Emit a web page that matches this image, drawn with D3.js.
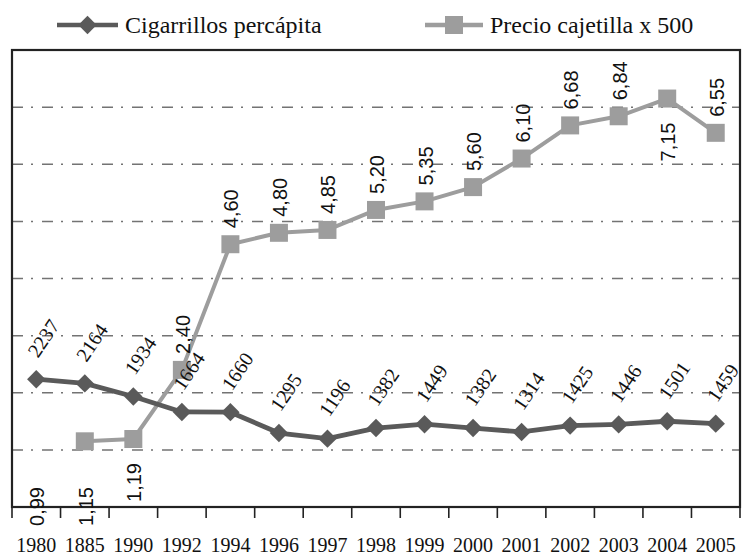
<!DOCTYPE html>
<html>
<head>
<meta charset="utf-8">
<script src="https://cdn.jsdelivr.net/npm/d3@7"></script>
<style>
  html, body { margin: 0; padding: 0; background: #fff; }
  svg { display: block; }
  .serif { font-family: 'Liberation Serif', 'DejaVu Serif', 'Times New Roman', serif; }
  .sans { font-family: 'Liberation Sans', 'DejaVu Sans', Arial, sans-serif; }
</style>
</head>
<body>
<svg id="chart" width="743" height="555"></svg>
<script>
// Years on the category axis (as printed)
const years = ['1980', '1885', '1990', '1992', '1994', '1996', '1997', '1998',
               '1999', '2000', '2001', '2002', '2003', '2004', '2005'];

// Cigarettes per capita
const cigarrillos = [2237, 2164, 1934, 1664, 1660, 1295, 1196, 1382,
                     1449, 1382, 1314, 1425, 1446, 1501, 1459];

// Price per pack
const precio = [0.99, 1.15, 1.19, 2.40, 4.60, 4.80, 4.85, 5.20,
                5.35, 5.60, 6.10, 6.68, 6.84, 7.15, 6.55];

// Shared value axis and its gridlines
const yDomain = [0, 8000];
const gridValues = [1000, 2000, 3000, 4000, 5000, 6000, 7000];

// Series names for the legend
const seriesNames = ['Cigarrillos percápita', 'Precio cajetilla x 500'];

// ---- drawing -------------------------------------------------------------
const priceFactor = 1000;          // price is plotted on the shared axis
const pricePlottedFrom = 1;        // 1980 price appears only as a label
// where each price label sits relative to its point
const priceLabelSide = ['axis', 'axis', 'below', 'above', 'above', 'above', 'above', 'above',
                        'above', 'above', 'above', 'above', 'above', 'below', 'above'];

const plot = { left: 12, right: 740, top: 50, bottom: 507 };
const darkColor = '#5a5a5a';
const lightColor = '#9d9d9d';

const svg = d3.select('#chart');

const x = d3.scaleBand().domain(years).range([plot.left, plot.right]).padding(0);
const y = d3.scaleLinear().domain(yDomain).range([plot.bottom, plot.top]);
const cx = d => x(d) + x.bandwidth() / 2;

const comma = d3.formatLocale({ decimal: ',', thousands: '.', grouping: [3], currency: ['', ''] });
const fmtPrice = comma.format('.2f');

// gridlines (dash-dot)
svg.append('g')
  .selectAll('line')
  .data(gridValues)
  .join('line')
  .attr('x1', plot.left).attr('x2', plot.right)
  .attr('y1', d => y(d)).attr('y2', d => y(d))
  .attr('stroke', '#737373')
  .attr('stroke-width', 1.5)
  .attr('stroke-dasharray', '11 8 2 9');

// category axis labels
const xAxis = svg.append('g')
  .attr('transform', `translate(0,${plot.bottom})`)
  .call(d3.axisBottom(x).tickSize(0).tickPadding(0));
xAxis.attr('font-family', null).attr('font-size', null);
xAxis.select('.domain').remove();
xAxis.selectAll('text')
  .attr('class', 'serif')
  .attr('y', 45)
  .attr('dy', 0)
  .style('font-size', '20px')
  .attr('fill', '#111');

// boundary tick marks
const boundaries = years.map(d => x(d)).concat([x.range()[1]]);
svg.append('g')
  .selectAll('line')
  .data(boundaries)
  .join('line')
  .attr('x1', d => d).attr('x2', d => d)
  .attr('y1', plot.bottom).attr('y2', plot.bottom + 11)
  .attr('stroke', '#222')
  .attr('stroke-width', 1.6);

// plot frame
svg.append('rect')
  .attr('x', plot.left).attr('y', plot.top)
  .attr('width', plot.right - plot.left)
  .attr('height', plot.bottom - plot.top)
  .attr('fill', 'none')
  .attr('stroke', '#222')
  .attr('stroke-width', 2.2);

// price series
const priceData = years.map((yr, i) => ({ year: yr, value: precio[i] * priceFactor, label: precio[i], side: priceLabelSide[i], i }));
const pricePlotted = priceData.filter(d => d.i >= pricePlottedFrom);

const line = d3.line().x(d => cx(d.year)).y(d => y(d.value));

svg.append('path')
  .datum(pricePlotted)
  .attr('d', line)
  .attr('fill', 'none')
  .attr('stroke', lightColor)
  .attr('stroke-width', 4)
  .attr('stroke-linejoin', 'round');

const squareSym = d3.symbol(d3.symbolSquare, 18 * 18);
svg.append('g')
  .selectAll('path')
  .data(pricePlotted)
  .join('path')
  .attr('d', squareSym)
  .attr('transform', d => `translate(${cx(d.year)},${y(d.value)})`)
  .attr('fill', lightColor);

// cigarettes series
const cigData = years.map((yr, i) => ({ year: yr, value: cigarrillos[i] }));

svg.append('path')
  .datum(cigData)
  .attr('d', line)
  .attr('fill', 'none')
  .attr('stroke', darkColor)
  .attr('stroke-width', 4.8)
  .attr('stroke-linejoin', 'round');

const diamondSym = d3.symbol(d3.symbolSquare, 13 * 13);
svg.append('g')
  .selectAll('path')
  .data(cigData)
  .join('path')
  .attr('d', diamondSym)
  .attr('transform', d => `translate(${cx(d.year)},${y(d.value)}) rotate(45)`)
  .attr('fill', darkColor);

// cigarette value labels (slanted)
svg.append('g')
  .selectAll('text')
  .data(cigData)
  .join('text')
  .attr('class', 'serif')
  .attr('transform', d => `translate(${cx(d.year) + 7},${y(d.value) - 41}) rotate(-56)`)
  .attr('text-anchor', 'middle')
  .attr('dominant-baseline', 'central')
  .style('font-size', '20px')
  .attr('fill', '#111')
  .text(d => d.value);

// price value labels (vertical)
svg.append('g')
  .selectAll('text')
  .data(priceData)
  .join('text')
  .attr('class', 'sans')
  .attr('transform', d => {
    const px = cx(d.year) + 1;
    let py;
    if (d.side === 'above') py = y(d.value) - 16;
    else if (d.side === 'below') py = y(d.value) + 24;
    else py = plot.bottom - 20;
    return `translate(${px},${py}) rotate(-90)`;
  })
  .attr('text-anchor', d => d.side === 'above' ? 'start' : 'end')
  .attr('dominant-baseline', 'central')
  .style('font-size', '20px')
  .attr('fill', '#111')
  .text(d => fmtPrice(d.label));

// legend
const legend = svg.append('g').attr('transform', 'translate(0,25)');
const legendItems = [
  { name: seriesNames[0], color: darkColor, x0: 57, x1: 118, sym: 'diamond' },
  { name: seriesNames[1], color: lightColor, x0: 425, x1: 483, sym: 'square' }
];
legendItems.forEach(it => {
  legend.append('line')
    .attr('x1', it.x0).attr('x2', it.x1)
    .attr('y1', 0).attr('y2', 0)
    .attr('stroke', it.color).attr('stroke-width', 4.5);
  const mid = (it.x0 + it.x1) / 2;
  legend.append('path')
    .attr('d', it.sym === 'diamond' ? diamondSym : squareSym)
    .attr('transform', it.sym === 'diamond' ? `translate(${mid},0) rotate(45)` : `translate(${mid},0)`)
    .attr('fill', it.color);
  legend.append('text')
    .attr('class', 'serif')
    .attr('x', it.x1 + 7)
    .attr('y', 0)
    .attr('dominant-baseline', 'central')
    .style('font-size', '24px')
    .attr('fill', '#111')
    .text(it.name);
});
</script>
</body>
</html>
